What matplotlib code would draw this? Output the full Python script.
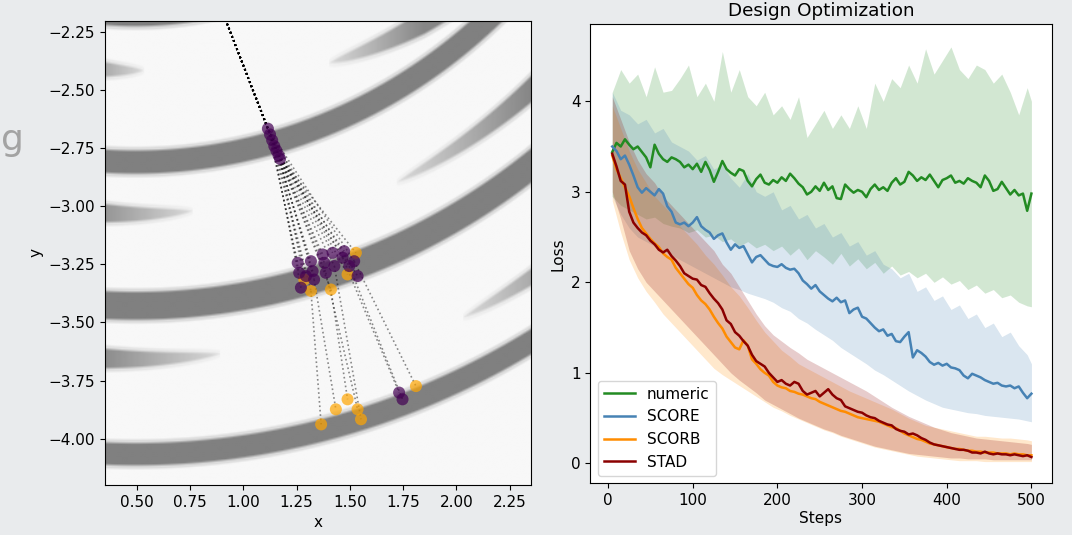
import numpy as np
import matplotlib
matplotlib.use("Agg")
import matplotlib.pyplot as plt

plt.rcParams['font.family'] = ['DejaVu Sans']
plt.rcParams['font.size'] = 11

# ---------------- left panel: landscape bands + trajectories ----------------
band_center = (0.49, -0.27)
main_radii = [1.91, 2.54, 3.16, 3.80]
main_half = [0.05, 0.056, 0.066, 0.054]
# partial streaks: radius, x where they vanish, x where they are full, drift of radius with x
partial_radii = [2.145, 2.764, 3.39, 2.30, 2.90, 3.56]
partial_tip = [0.53, 0.76, 0.89, 1.40, 1.72, 2.03]
partial_full = [0.20, 0.25, 0.30, 1.85, 2.35, 2.60]
partial_drift = [0.0, 0.0, 0.0, 0.14, 0.0, 0.0]

start_x, start_y = 0.74, -1.78
top_x = [1.115, 1.125, 1.135, 1.145, 1.155, 1.165, 1.172]
top_y = [-2.665, -2.690, -2.715, -2.740, -2.760, -2.780, -2.795]

mid_purple_x = [1.255, 1.262, 1.270, 1.317, 1.325, 1.332, 1.372, 1.380, 1.387,
                1.419, 1.427, 1.466, 1.473, 1.497, 1.520, 1.536, 1.294]
mid_purple_y = [-3.243, -3.286, -3.350, -3.236, -3.279, -3.315, -3.207, -3.243, -3.286,
                -3.200, -3.257, -3.221, -3.193, -3.257, -3.236, -3.300, -3.300]
mid_orange_x = [1.317, 1.411, 1.528, 1.286, 1.489]
mid_orange_y = [-3.364, -3.358, -3.200, -3.315, -3.293]

bot_orange_x = [1.365, 1.434, 1.489, 1.536, 1.552, 1.810]
bot_orange_y = [-3.939, -3.874, -3.831, -3.874, -3.917, -3.774]
bot_purple_x = [1.731, 1.747]
bot_purple_y = [-3.802, -3.831]
# where each bottom point (orange then purple) came from
bot_from_x = [1.317, 1.332, 1.411, 1.387, 1.427, 1.520, 1.466, 1.497]
bot_from_y = [-3.364, -3.315, -3.358, -3.286, -3.257, -3.236, -3.221, -3.257]

# ---------------- right panel: loss curves ----------------
steps = np.arange(5, 501, 5)
band_steps = np.append(np.arange(5, 500, 10), 500)

numeric = [3.44, 3.54, 3.50, 3.58, 3.52, 3.47, 3.50, 3.44, 3.38, 3.27,
           3.52, 3.42, 3.36, 3.33, 3.38, 3.36, 3.33, 3.27, 3.30, 3.25,
           3.31, 3.22, 3.33, 3.24, 3.11, 3.22, 3.34, 3.25, 3.21, 3.18,
           3.25, 3.23, 3.12, 3.06, 3.14, 3.19, 3.10, 3.08, 3.13, 3.10,
           3.16, 3.12, 3.20, 3.15, 3.09, 3.05, 2.97, 3.00, 3.06, 3.01,
           3.10, 3.02, 3.06, 2.93, 2.92, 3.08, 3.03, 2.99, 3.02, 3.00,
           2.94, 3.03, 3.08, 3.02, 3.05, 3.01, 3.10, 3.15, 3.08, 3.11,
           3.22, 3.18, 3.12, 3.16, 3.13, 3.19, 3.12, 3.05, 3.13, 3.15,
           3.18, 3.10, 3.12, 3.09, 3.15, 3.12, 3.10, 3.05, 3.18, 3.12,
           3.01, 3.03, 3.11, 3.04, 2.97, 3.02, 2.96, 2.98, 2.79, 2.98]
score = [3.50, 3.45, 3.36, 3.40, 3.30, 3.18, 3.05, 2.99, 3.04, 3.00,
         2.96, 3.03, 2.98, 2.84, 2.78, 2.66, 2.64, 2.66, 2.62, 2.66,
         2.72, 2.62, 2.58, 2.55, 2.48, 2.52, 2.54, 2.44, 2.36, 2.42,
         2.38, 2.40, 2.31, 2.22, 2.28, 2.30, 2.25, 2.20, 2.18, 2.17,
         2.20, 2.16, 2.14, 2.15, 2.10, 2.02, 1.98, 1.93, 1.97, 1.90,
         1.86, 1.82, 1.79, 1.83, 1.78, 1.80, 1.66, 1.70, 1.72, 1.62,
         1.60, 1.55, 1.50, 1.46, 1.48, 1.41, 1.43, 1.35, 1.34, 1.40,
         1.45, 1.17, 1.25, 1.22, 1.18, 1.12, 1.09, 1.11, 1.08, 1.10,
         1.06, 1.05, 1.03, 0.97, 0.94, 0.99, 0.97, 0.95, 0.92, 0.90,
         0.88, 0.89, 0.86, 0.85, 0.86, 0.83, 0.85, 0.78, 0.72, 0.77]
scorb = [3.40, 3.25, 3.15, 3.05, 2.95, 2.82, 2.70, 2.60, 2.54, 2.48,
         2.43, 2.39, 2.32, 2.28, 2.25, 2.16, 2.10, 2.04, 1.98, 1.94,
         1.86, 1.80, 1.76, 1.70, 1.62, 1.55, 1.49, 1.40, 1.34, 1.28,
         1.26, 1.36, 1.30, 1.15, 1.10, 1.04, 1.00, 0.97, 0.90, 0.86,
         0.84, 0.83, 0.80, 0.79, 0.77, 0.76, 0.74, 0.72, 0.71, 0.68,
         0.66, 0.64, 0.62, 0.60, 0.58, 0.57, 0.55, 0.53, 0.51, 0.50,
         0.49, 0.48, 0.47, 0.46, 0.44, 0.42, 0.40, 0.39, 0.36, 0.33,
         0.31, 0.29, 0.27, 0.26, 0.24, 0.22, 0.21, 0.20, 0.19, 0.18,
         0.17, 0.16, 0.16, 0.15, 0.14, 0.14, 0.13, 0.13, 0.12, 0.12,
         0.12, 0.11, 0.11, 0.11, 0.10, 0.11, 0.10, 0.10, 0.09, 0.09]
stad = [3.42, 3.28, 3.12, 3.08, 2.78, 2.66, 2.60, 2.55, 2.52, 2.46,
        2.42, 2.36, 2.33, 2.36, 2.29, 2.24, 2.18, 2.10, 2.07, 2.04,
        2.03, 1.97, 1.95, 1.88, 1.82, 1.77, 1.70, 1.58, 1.54, 1.45,
        1.41, 1.35, 1.30, 1.20, 1.13, 1.10, 1.07, 1.00, 0.95, 0.90,
        0.92, 0.88, 0.86, 0.90, 0.88, 0.80, 0.76, 0.78, 0.80, 0.74,
        0.78, 0.82, 0.76, 0.72, 0.70, 0.63, 0.61, 0.59, 0.57, 0.56,
        0.53, 0.51, 0.50, 0.47, 0.45, 0.43, 0.42, 0.38, 0.36, 0.35,
        0.32, 0.33, 0.31, 0.28, 0.26, 0.23, 0.21, 0.20, 0.19, 0.18,
        0.17, 0.16, 0.15, 0.15, 0.14, 0.12, 0.12, 0.11, 0.13, 0.11,
        0.10, 0.11, 0.10, 0.10, 0.09, 0.10, 0.09, 0.08, 0.09, 0.07]

numeric_hi = [4.10, 4.35, 4.20, 4.30, 4.05, 4.38, 4.10, 4.12, 4.25, 4.40,
              4.05, 4.20, 4.00, 4.55, 4.10, 4.35, 4.05, 3.95, 4.10, 3.85,
              3.95, 3.80, 4.05, 3.60, 3.75, 3.90, 3.70, 3.85, 3.70, 3.95,
              3.70, 4.20, 4.00, 4.25, 4.15, 4.40, 4.20, 4.58, 4.30, 4.45,
              4.60, 4.35, 4.25, 4.40, 4.35, 4.20, 4.30, 4.10, 3.85, 4.15, 4.00]
numeric_lo = [2.95, 2.85, 2.80, 2.75, 2.70, 2.72, 2.65, 2.62, 2.60, 2.55,
              2.58, 2.50, 2.52, 2.45, 2.48, 2.40, 2.45, 2.38, 2.42, 2.35,
              2.40, 2.30, 2.38, 2.25, 2.35, 2.28, 2.20, 2.32, 2.18, 2.26,
              2.15, 2.22, 2.10, 2.18, 2.08, 2.12, 2.05, 2.10, 2.00, 2.06,
              1.98, 2.02, 1.92, 1.97, 1.88, 1.92, 1.83, 1.86, 1.78, 1.74, 1.73]
score_hi = [4.10, 3.90, 3.85, 3.75, 3.80, 3.65, 3.70, 3.55, 3.50, 3.45,
            3.35, 3.40, 3.25, 3.30, 3.15, 3.05, 3.20, 3.00, 2.95, 3.00,
            2.80, 2.85, 2.70, 2.75, 2.60, 2.65, 2.50, 2.55, 2.40, 2.45,
            2.30, 2.35, 2.20, 2.15, 2.05, 2.10, 1.90, 1.95, 1.80, 1.85,
            1.70, 1.75, 1.60, 1.65, 1.50, 1.55, 1.40, 1.45, 1.30, 1.20, 1.10]
score_lo = [2.95, 2.75, 2.60, 2.50, 2.45, 2.40, 2.35, 2.30, 2.25, 2.20,
            2.15, 2.10, 2.05, 2.00, 1.95, 1.92, 1.88, 1.85, 1.82, 1.78,
            1.72, 1.68, 1.60, 1.55, 1.48, 1.42, 1.36, 1.28, 1.22, 1.16,
            1.10, 1.03, 0.98, 0.92, 0.86, 0.80, 0.75, 0.70, 0.66, 0.62,
            0.60, 0.58, 0.56, 0.55, 0.53, 0.52, 0.51, 0.50, 0.49, 0.47, 0.46]
scorb_hi = [3.95, 3.70, 3.45, 3.25, 3.10, 2.95, 2.85, 2.75, 2.62, 2.52,
            2.42, 2.30, 2.20, 2.08, 1.95, 1.85, 1.72, 1.58, 1.45, 1.35,
            1.25, 1.18, 1.10, 1.05, 1.00, 0.95, 0.90, 0.85, 0.80, 0.76,
            0.72, 0.68, 0.64, 0.60, 0.55, 0.50, 0.46, 0.42, 0.40, 0.38,
            0.36, 0.34, 0.32, 0.30, 0.30, 0.29, 0.28, 0.28, 0.27, 0.26, 0.25]
scorb_lo = [2.90, 2.55, 2.25, 2.05, 1.90, 1.78, 1.65, 1.55, 1.45, 1.35,
            1.25, 1.15, 1.05, 0.98, 0.92, 0.86, 0.80, 0.74, 0.68, 0.62,
            0.58, 0.53, 0.49, 0.45, 0.41, 0.37, 0.34, 0.30, 0.27, 0.24,
            0.21, 0.18, 0.16, 0.14, 0.12, 0.10, 0.08, 0.07, 0.06, 0.05,
            0.04, 0.03, 0.03, 0.03, 0.02, 0.02, 0.02, 0.02, 0.02, 0.02, 0.02]
stad_hi = [4.05, 3.80, 3.55, 3.35, 3.20, 3.10, 2.95, 2.85, 2.75, 2.65,
           2.55, 2.45, 2.35, 2.20, 2.10, 1.95, 1.80, 1.65, 1.52, 1.42,
           1.35, 1.28, 1.22, 1.15, 1.10, 1.05, 1.00, 0.95, 0.90, 0.85,
           0.80, 0.74, 0.68, 0.62, 0.57, 0.52, 0.48, 0.44, 0.40, 0.37,
           0.34, 0.32, 0.30, 0.28, 0.27, 0.26, 0.25, 0.24, 0.23, 0.22, 0.21]
stad_lo = [3.00, 2.70, 2.35, 2.15, 2.00, 1.90, 1.80, 1.70, 1.60, 1.50,
           1.40, 1.30, 1.20, 1.10, 1.00, 0.92, 0.85, 0.78, 0.70, 0.65,
           0.60, 0.55, 0.50, 0.46, 0.42, 0.38, 0.35, 0.31, 0.28, 0.25,
           0.22, 0.19, 0.17, 0.15, 0.13, 0.11, 0.10, 0.09, 0.08, 0.07,
           0.06, 0.06, 0.05, 0.05, 0.05, 0.04, 0.04, 0.04, 0.04, 0.04, 0.04]

labels = ['numeric', 'SCORE', 'SCORB', 'STAD']
colors = ['forestgreen', 'steelblue', 'darkorange', 'darkred']

fig = plt.figure(figsize=(10.72, 5.35), dpi=100, facecolor='#e9ebed')

# faint slide letter at the left edge
fig.text(1 / 1072, 1 - 150 / 535, 'g', fontsize=26, color='#a3a3a3',
         ha='left', va='baseline')

# ---- left ----
ax1 = fig.add_axes([0.0979, 0.0935, 0.3974, 0.8678])
gx = np.linspace(0.35, 2.35, 360)
gy = np.linspace(-4.2, -2.2, 360)
X, Y = np.meshgrid(gx, gy)
R = np.hypot(X - band_center[0], Y - band_center[1])
dark = np.zeros_like(R)
ramp = 0.012


def band_profile(dr, hw):
    # flat dark core plus a thin light halo
    core = np.clip((hw - dr) / ramp, 0, 1)
    halo = np.clip((hw + 0.014 - dr) / 0.008, 0, 1)
    return 0.78 * core + 0.22 * halo


for r0, hw in zip(main_radii, main_half):
    dark = np.maximum(dark, band_profile(np.abs(R - r0), hw))
for r0, xt, xf, k in zip(partial_radii, partial_tip, partial_full, partial_drift):
    t = np.clip((X - xt) / (xf - xt), 0, 1)
    hw = 0.05 * np.sqrt(t)
    reff = r0 + k * (X - xt)
    d = band_profile(np.abs(R - reff), hw) * (0.25 + 0.7 * t) * (t > 0)
    dark = np.maximum(dark, d)
shade = 0.97 - 0.47 * dark
ax1.imshow(shade, cmap='gray', vmin=0, vmax=1, origin='lower', aspect='auto',
           extent=(0.35, 2.35, -4.2, -2.2), interpolation='bilinear')

mid_x = mid_purple_x + mid_orange_x
mid_y = mid_purple_y + mid_orange_y
for i, (mx, my) in enumerate(zip(mid_x, mid_y)):
    k = i % len(top_x)
    ax1.plot([start_x, top_x[k], mx], [start_y, top_y[k], my], ':', color='k',
             lw=1.2, alpha=0.45)
for fx, fy, bx, by in zip(bot_from_x, bot_from_y,
                          bot_orange_x + bot_purple_x, bot_orange_y + bot_purple_y):
    ax1.plot([fx, bx], [fy, by], ':', color='k', lw=1.2, alpha=0.45)

ax1.scatter(mid_orange_x + bot_orange_x, mid_orange_y + bot_orange_y, s=75,
            color='orange', alpha=0.7, edgecolors='none', zorder=3)
ax1.scatter(top_x + mid_purple_x + bot_purple_x, top_y + mid_purple_y + bot_purple_y,
            s=75, color='#440154', alpha=0.7, edgecolors='none', zorder=4)

ax1.set_xlim(0.35, 2.35)
ax1.set_ylim(-4.2, -2.2)
ax1.set_xticks([0.5, 0.75, 1.0, 1.25, 1.5, 1.75, 2.0, 2.25])
ax1.set_yticks([-4.0, -3.75, -3.5, -3.25, -3.0, -2.75, -2.5, -2.25])
ax1.set_xlabel('x')
ax1.set_ylabel('y')

# ---- right ----
ax2 = fig.add_axes([0.5506, 0.0966, 0.4305, 0.858])
ax2.set_facecolor('white')
his = [numeric_hi, score_hi, scorb_hi, stad_hi]
los = [numeric_lo, score_lo, scorb_lo, stad_lo]
means = [numeric, score, scorb, stad]
for lo, hi, c in zip(los, his, colors):
    ax2.fill_between(band_steps, lo, hi, color=c, alpha=0.2, lw=0)
for m, c, lab in zip(means, colors, labels):
    ax2.plot(steps, m, color=c, lw=1.8, label=lab)

ax2.set_xlim(-21, 524)
ax2.set_ylim(-0.22, 4.85)
ax2.set_xticks([0, 100, 200, 300, 400, 500])
ax2.set_yticks([0, 1, 2, 3, 4])
ax2.set_xlabel('Steps', labelpad=2)
ax2.set_ylabel('Loss')
ax2.set_title('Design Optimization')
ax2.legend(loc='lower left')

fig.savefig('out.png', dpi=100, facecolor=fig.get_facecolor())
